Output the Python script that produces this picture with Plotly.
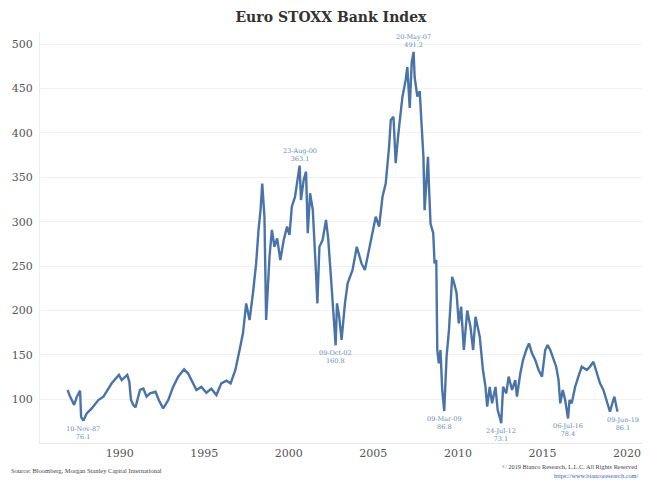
import plotly.graph_objects as go

# Decimal-year dates and index values
years = [1986.92, 1987.07, 1987.31, 1987.47, 1987.66, 1987.72, 1987.86, 1988.05, 1988.35, 1988.74,
         1989.04, 1989.53, 1989.96, 1990.12, 1990.45, 1990.57, 1990.67, 1990.81, 1990.94, 1991.2,
         1991.4, 1991.59, 1991.79, 1992.12, 1992.32, 1992.57, 1992.87, 1993.16, 1993.46, 1993.81,
         1994.05, 1994.34, 1994.54, 1994.83, 1995.13, 1995.42, 1995.72, 1996.01, 1996.31, 1996.56,
         1996.84, 1997.09, 1997.29, 1997.48, 1997.68, 1997.88, 1998.07, 1998.21, 1998.33, 1998.43,
         1998.56, 1998.66, 1998.86, 1999.0, 1999.15, 1999.31, 1999.5, 1999.7, 1999.9, 2000.04,
         2000.18, 2000.37, 2000.53, 2000.64, 2000.72, 2000.88, 2001.02, 2001.12, 2001.26, 2001.42,
         2001.61, 2001.69, 2001.81, 2002.0, 2002.2, 2002.33, 2002.49, 2002.69, 2002.77, 2002.85,
         2002.98, 2003.12, 2003.32, 2003.48, 2003.77, 2004.02, 2004.3, 2004.5, 2004.85, 2005.14,
         2005.34, 2005.54, 2005.73, 2005.93, 2006.03, 2006.19, 2006.32, 2006.46, 2006.72, 2006.91,
         2007.01, 2007.15, 2007.27, 2007.38, 2007.44, 2007.6, 2007.74, 2007.86, 2007.96, 2008.03,
         2008.15, 2008.23, 2008.29, 2008.38, 2008.54, 2008.62, 2008.72, 2008.78, 2008.87, 2008.97,
         2009.07, 2009.19, 2009.33, 2009.47, 2009.66, 2009.76, 2009.92, 2010.05, 2010.19, 2010.35,
         2010.55, 2010.74, 2010.9, 2011.04, 2011.29, 2011.48, 2011.63, 2011.73, 2011.88, 2012.02,
         2012.22, 2012.35, 2012.47, 2012.56, 2012.67, 2012.86, 2013.0, 2013.2, 2013.39, 2013.49,
         2013.69, 2013.85, 2014.04, 2014.2, 2014.38, 2014.57, 2014.77, 2014.97, 2015.16, 2015.3,
         2015.46, 2015.66, 2015.81, 2015.95, 2016.05, 2016.2, 2016.34, 2016.51, 2016.6, 2016.73,
         2016.93, 2017.12, 2017.32, 2017.62, 2017.81, 2018.01, 2018.21, 2018.4, 2018.6, 2018.8,
         2018.99, 2019.13, 2019.25, 2019.39, 2019.44]
values = [110.5, 103, 93.6, 103, 109.7, 80, 76.1, 84, 89.8, 99.2,
          103, 118, 127.4, 121.7, 127.4, 120, 99.2, 93.6, 91, 110.5,
          112, 103, 106.7, 108.5, 99, 89.8, 99, 114, 125.5, 133.8,
          129, 118, 110.5, 114, 107.4, 112, 104.8, 118, 121, 118,
          133, 155.5, 174.3, 208, 189.3, 219.4, 253, 290.7, 313, 343,
          305.6, 189.3, 260.7, 290.7, 271.8, 281.2, 256.9, 279.4, 294.4, 285,
          316.9, 328.2, 352, 363.1, 324.4, 347, 356.3, 287, 332, 313,
          241.9, 208, 271.8, 279.4, 302, 281, 238, 175, 160.8, 208,
          193, 166.8, 208, 230.6, 245.6, 271.8, 253, 245.6, 279.4, 305.6,
          294.4, 328, 343, 384.4, 414.5, 418, 365.8, 395.7, 440.8, 459.6,
          474, 428, 480, 491.2, 463, 440.8, 447, 410.8, 373, 313,
          358, 373, 339.4, 298, 287, 253, 256.9, 155.5, 140.5, 155.5,
          110.5, 86.8, 148, 178, 238, 232, 219.4, 185.6, 204.3, 155.5,
          200, 181.8, 155.5, 193, 170.5, 133, 114, 91.7, 114, 95.5,
          114, 88, 80, 73.1, 114, 106.7, 125.5, 110.5, 121.7, 103,
          129.3, 144.3, 155.5, 163, 151.7, 144.3, 133, 125.5, 155.5, 161,
          155.5, 144.3, 136.7, 121.7, 95.5, 110.5, 99.2, 78.4, 99.2, 95.5,
          114, 125.5, 136.7, 133, 136.7, 142.3, 129.3, 118, 110.5, 99.2,
          86, 95.5, 103, 90, 86.1]

# Labelled extremes
label_years = [1987.86, 2000.64, 2002.77, 2007.38, 2009.19, 2012.56, 2016.51, 2019.44]
label_values = [76.1, 363.1, 160.8, 491.2, 86.8, 73.1, 78.4, 86.1]
label_dates = ["10-Nov-87", "23-Aug-00", "09-Oct-02", "20-May-07",
               "09-Mar-09", "24-Jul-12", "06-Jul-16", "09-Jun-19"]
label_above = [False, True, False, True, False, False, False, False]

x_ticks = [1990, 1995, 2000, 2005, 2010, 2015, 2020]
y_ticks = [100, 150, 200, 250, 300, 350, 400, 450, 500]

SERIF = "DejaVu Serif"
SMALL = "Liberation Serif"
LINE = "#4a74a7"
LABEL = "#6a8cb6"

fig = go.Figure()
fig.add_trace(go.Scatter(x=years, y=values, mode="lines",
                         line=dict(color=LINE, width=2.4), hoverinfo="skip"))

for xv, yv, d, above in zip(label_years, label_values, label_dates, label_above):
    xshift = 5 if d == "09-Jun-19" else 0
    fig.add_annotation(x=xv, y=yv, xref="x", yref="y",
                       text=f"{d}<br>{yv}", showarrow=False,
                       font=dict(family=SERIF, size=6.5, color=LABEL),
                       yanchor="bottom" if above else "top",
                       yshift=1 if above else -2, xshift=xshift)

fig.add_annotation(x=-0.051, y=-0.066, xref="paper", yref="paper",
                   text="Source: Bloomberg, Morgan Stanley Capital International",
                   showarrow=False, xanchor="left", yanchor="middle",
                   font=dict(family=SMALL, size=6.5, color="#444"))
fig.add_annotation(x=0.99, y=-0.056, xref="paper", yref="paper",
                   text="© 2019 Bianco Research, L.L.C. All Rights Reserved",
                   showarrow=False, xanchor="right", yanchor="middle",
                   font=dict(family=SMALL, size=6.3, color="#444"))
fig.add_annotation(x=0.99, y=-0.080, xref="paper", yref="paper",
                   text="https://www.biancoresearch.com/",
                   showarrow=False, xanchor="right", yanchor="middle",
                   font=dict(family=SMALL, size=6.3, color="#3a66b0"))

# The page body adds an 8px offset, so the figure is sized to fit the window.
fig.update_layout(
    width=642, height=479,
    margin=dict(l=30, r=4, t=24, b=44),
    paper_bgcolor="white", plot_bgcolor="white",
    showlegend=False,
    title=dict(text="<b>Euro STOXX Bank Index</b>", x=0.503, xanchor="center",
               y=0.981, yanchor="middle",
               font=dict(family=SERIF, size=14, color="#333")),
    xaxis=dict(range=[1985.29, 2021.12], tickvals=x_ticks,
               ticktext=[str(t) for t in x_ticks], showgrid=False,
               zeroline=False, showline=True, linecolor="#e6e6e6", linewidth=1,
               ticks="", tickfont=dict(family=SERIF, size=11, color="#555")),
    yaxis=dict(range=[50.8, 513.6], tickvals=y_ticks,
               ticktext=[str(t) for t in y_ticks], showgrid=True,
               gridcolor="#f1f1f1", gridwidth=1, zeroline=False,
               showline=True, linecolor="#eeeeee", linewidth=1,
               ticks="", ticklabelstandoff=4,
               tickfont=dict(family=SERIF, size=11, color="#555")),
)

fig.write_html("out.html")
